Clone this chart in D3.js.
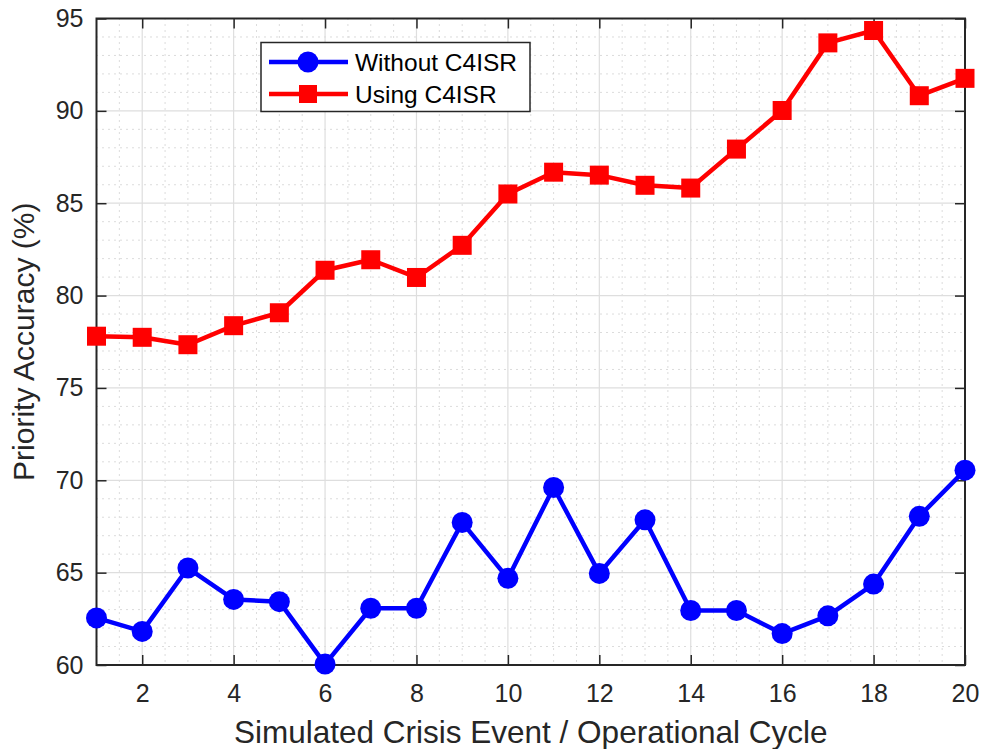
<!DOCTYPE html>
<html>
<head>
<meta charset="utf-8">
<script src="https://cdn.jsdelivr.net/npm/d3@7"></script>
<style>
  body { margin: 0; background: #fff; }
  svg { display: block; font-family: "Liberation Sans", Arial, sans-serif; }
</style>
</head>
<body>
<div id="chart"></div>
<script>
// données
const cycles = d3.range(1, 21);
const withoutC4ISR = [62.55, 61.82, 65.25, 63.55, 63.43, 60.05, 63.07, 63.07, 67.72, 64.69,
                      69.61, 64.96, 67.86, 62.95, 62.95, 61.7, 62.66, 64.38, 68.05, 70.55];
const usingC4ISR = [77.8, 77.74, 77.34, 78.37, 79.07, 81.37, 81.94, 80.98, 82.72, 85.5,
                    86.68, 86.52, 85.97, 85.82, 87.93, 90.02, 93.68, 94.35, 90.82, 91.76];
const xTicks = [2, 4, 6, 8, 10, 12, 14, 16, 18, 20];
const yTicks = [60, 65, 70, 75, 80, 85, 90, 95];
const seriesNames = ["Without C4ISR", "Using C4ISR"];
const seriesColors = ["#0000ff", "#ff0000"];

const width = 982, height = 749;
const margin = { top: 18.5, right: 17, bottom: 84, left: 96.5 };
const axisColor = "#262626";

const svg = d3.select("#chart").append("svg")
    .attr("width", width)
    .attr("height", height);

const x = d3.scaleLinear().domain([1, 20]).range([margin.left, width - margin.right]);
const y = d3.scaleLinear().domain([60, 95]).range([height - margin.bottom, margin.top]);

const x0 = x.range()[0], x1 = x.range()[1];
const y0 = y.range()[0], y1 = y.range()[1];

// 1. Grille mineure (pointillés)
const gGrid = svg.append("g");
const minorX = d3.range(1.5, 20, 0.5).filter(v => v % 2 !== 0);
const minorY = d3.range(61, 95, 1).filter(v => v % 5 !== 0);
gGrid.selectAll(".mx").data(minorX).join("line")
    .attr("x1", d => x(d)).attr("x2", d => x(d))
    .attr("y1", y1).attr("y2", y0)
    .attr("stroke", "#b8b8b8").attr("stroke-width", 1)
    .attr("stroke-dasharray", "1,5");
gGrid.selectAll(".my").data(minorY).join("line")
    .attr("x1", x0).attr("x2", x1)
    .attr("y1", d => y(d)).attr("y2", d => y(d))
    .attr("stroke", "#b8b8b8").attr("stroke-width", 1)
    .attr("stroke-dasharray", "1,5");

// 2. Grille majeure
gGrid.selectAll(".gx").data(xTicks).join("line")
    .attr("x1", d => x(d)).attr("x2", d => x(d))
    .attr("y1", y1).attr("y2", y0)
    .attr("stroke", "#dedede").attr("stroke-width", 1.2);
gGrid.selectAll(".gy").data(yTicks).join("line")
    .attr("x1", x0).attr("x2", x1)
    .attr("y1", d => y(d)).attr("y2", d => y(d))
    .attr("stroke", "#dedede").attr("stroke-width", 1.2);

// 3. Axes (graduations vers l'intérieur, sur les quatre côtés)
function styleAxis(g) {
    g.attr("font-size", 25).attr("font-family", null);
    g.select(".domain").remove();
    g.selectAll(".tick line").attr("stroke", axisColor).attr("stroke-width", 1.5);
    g.selectAll(".tick text").attr("fill", axisColor);
}
svg.append("g")
    .attr("transform", `translate(0,${y0})`)
    .call(d3.axisBottom(x).tickValues(xTicks).tickSizeInner(-10).tickPadding(19))
    .call(styleAxis);
svg.append("g")
    .attr("transform", `translate(0,${y1})`)
    .call(d3.axisTop(x).tickValues(xTicks).tickSizeInner(-10).tickFormat(""))
    .call(styleAxis);
svg.append("g")
    .attr("transform", `translate(${x0},0)`)
    .call(d3.axisLeft(y).tickValues(yTicks).tickSizeInner(-10).tickPadding(13))
    .call(styleAxis);
svg.append("g")
    .attr("transform", `translate(${x1},0)`)
    .call(d3.axisRight(y).tickValues(yTicks).tickSizeInner(-10).tickFormat(""))
    .call(styleAxis);

svg.append("rect")
    .attr("x", x0).attr("y", y1)
    .attr("width", x1 - x0).attr("height", y0 - y1)
    .attr("fill", "none").attr("stroke", axisColor).attr("stroke-width", 2);

// 4. Séries
const line = d3.line().x((d, i) => x(cycles[i])).y(d => y(d));
const series = [withoutC4ISR, usingC4ISR];

series.forEach((vals, s) => {
    svg.append("path")
        .datum(vals)
        .attr("d", line)
        .attr("fill", "none")
        .attr("stroke", seriesColors[s])
        .attr("stroke-width", 4.5)
        .attr("stroke-linejoin", "round");
    if (s === 0) {
        svg.append("g").selectAll("circle").data(vals).join("circle")
            .attr("cx", (d, i) => x(cycles[i]))
            .attr("cy", d => y(d))
            .attr("r", 10.5)
            .attr("fill", seriesColors[s]);
    } else {
        svg.append("g").selectAll("rect").data(vals).join("rect")
            .attr("x", (d, i) => x(cycles[i]) - 9.5)
            .attr("y", d => y(d) - 9.5)
            .attr("width", 19).attr("height", 19)
            .attr("fill", seriesColors[s]);
    }
});

// 5. Légende
const legend = svg.append("g").attr("transform", "translate(261,42.5)");
legend.append("rect")
    .attr("width", 269).attr("height", 69)
    .attr("fill", "#fff").attr("stroke", "#262626").attr("stroke-width", 1.5);
seriesNames.forEach((name, s) => {
    const ly = 19.5 + s * 32;
    legend.append("line")
        .attr("x1", 8).attr("x2", 87).attr("y1", ly).attr("y2", ly)
        .attr("stroke", seriesColors[s]).attr("stroke-width", 4.5);
    if (s === 0) {
        legend.append("circle").attr("cx", 47).attr("cy", ly).attr("r", 10.5).attr("fill", seriesColors[s]);
    } else {
        legend.append("rect").attr("x", 38).attr("y", ly - 9).attr("width", 18).attr("height", 18).attr("fill", seriesColors[s]);
    }
    legend.append("text")
        .attr("x", 94).attr("y", ly)
        .attr("dy", "0.35em")
        .style("font-size", "24.5px")
        .attr("fill", "#000")
        .text(name);
});

// 6. Titres des axes
svg.append("text")
    .attr("x", (x0 + x1) / 2)
    .attr("y", 743)
    .attr("text-anchor", "middle")
    .style("font-size", "31.5px")
    .attr("fill", axisColor)
    .text("Simulated Crisis Event / Operational Cycle");

svg.append("text")
    .attr("transform", `translate(34,${(y0 + y1) / 2}) rotate(-90)`)
    .attr("text-anchor", "middle")
    .style("font-size", "30px")
    .attr("fill", axisColor)
    .text("Priority Accuracy (%)");
</script>
</body>
</html>
